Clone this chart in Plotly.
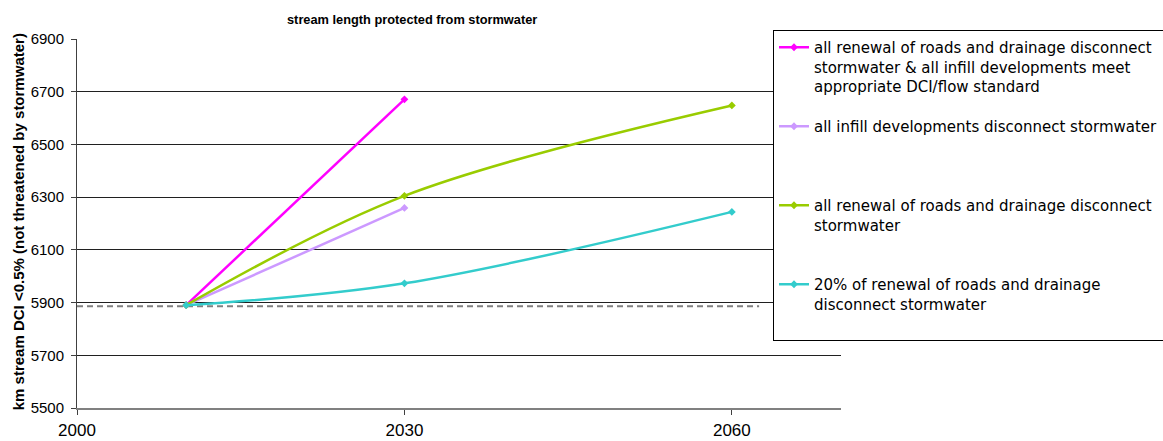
import plotly.graph_objects as go

years = [2010, 2030, 2060]
names = [
    "all renewal of roads and drainage disconnect<br>stormwater & all infill developments meet<br>appropriate DCI/flow standard",
    "all infill developments disconnect stormwater<br>\u00a0<br>\u00a0",
    "all renewal of roads and drainage disconnect<br>stormwater<br>\u00a0",
    "20% of renewal of roads and drainage<br>disconnect stormwater<br>\u00a0",
]
colors = ["#FF00FF", "#CC99FF", "#99CC00", "#33CCCC"]
series_vals = [
    [5890, 6671],
    [5890, 6259],
    [5890, 6305, 6648],
    [5890, 5973, 6244],
]
baseline_x = [2000, 2062.5]
baseline_y = [5886, 5886]
y_ticks = [5500, 5700, 5900, 6100, 6300, 6500, 6700, 6900]
x_ticks = [2000, 2030, 2060]

W, H = 1163, 441
L, R = 77, 841
T, B = 38.7, 407.7

fig = go.Figure()
fig.add_trace(go.Scatter(
    x=baseline_x, y=baseline_y, mode="lines",
    line=dict(color="#808080", width=2, dash="6px,4px"),
    showlegend=False, hoverinfo="skip"))

for i, (nm, c, v) in enumerate(zip(names, colors, series_vals)):
    fig.add_trace(go.Scatter(
        x=years[:len(v)], y=v, name=nm, legendgroup=f"g{i}",
        mode="lines+markers",
        line=dict(color=c, width=2.5, shape="spline", smoothing=1),
        marker=dict(symbol="diamond", size=6, color=c),
    ))

fig.update_layout(
    width=W, height=H,
    margin=dict(l=L, r=W - R, t=T, b=H - B, autoexpand=False),
    paper_bgcolor="white", plot_bgcolor="white",
    font=dict(family="Liberation Sans, Arial, sans-serif", color="black"),
    showlegend=True,
    legend=dict(
        x=(773 - L) / (R - L), xanchor="left",
        yref="container", y=1 - 30 / H, yanchor="top",
        maxheight=420,
        bgcolor="white", bordercolor="black", borderwidth=1,
        font=dict(family="DejaVu Sans, sans-serif", size=15, color="black"),
        valign="top", tracegroupgap=17.5, itemwidth=30,
    ),
    annotations=[
        dict(text="<b>stream length protected from stormwater</b>",
             xref="paper", yref="paper",
             x=(412 - L) / (R - L), y=(B - 19) / (B - T),
             xanchor="center", yanchor="middle", showarrow=False,
             font=dict(size=12.8, family="Liberation Sans, Arial, sans-serif")),
        dict(text="<b>km stream DCI <0.5% (not threatened by stormwater)</b>",
             xref="paper", yref="paper",
             x=(18 - L) / (R - L), y=(B - 222) / (B - T),
             xanchor="center", yanchor="middle", showarrow=False, textangle=-90,
             font=dict(size=15, family="Liberation Sans, Arial, sans-serif")),
    ],
)

fig.update_xaxes(
    range=[2000, 2070], tickvals=x_ticks, ticktext=[str(t) for t in x_ticks],
    showgrid=False, zeroline=False,
    showline=True, linecolor="#808080", linewidth=2,
    ticks="outside", ticklen=5, tickcolor="#404040", tickwidth=1,
    tickfont=dict(size=17), ticklabelstandoff=1,
)
fig.update_yaxes(
    range=[5500, 6900], tickvals=y_ticks,
    showgrid=True, gridcolor="#202020", gridwidth=1, zeroline=False,
    showline=True, linecolor="#404040", linewidth=1,
    ticks="outside", ticklen=5, tickcolor="#404040", tickwidth=1,
    tickfont=dict(size=15), ticklabelstandoff=4,
)

fig.write_html("out.html")
